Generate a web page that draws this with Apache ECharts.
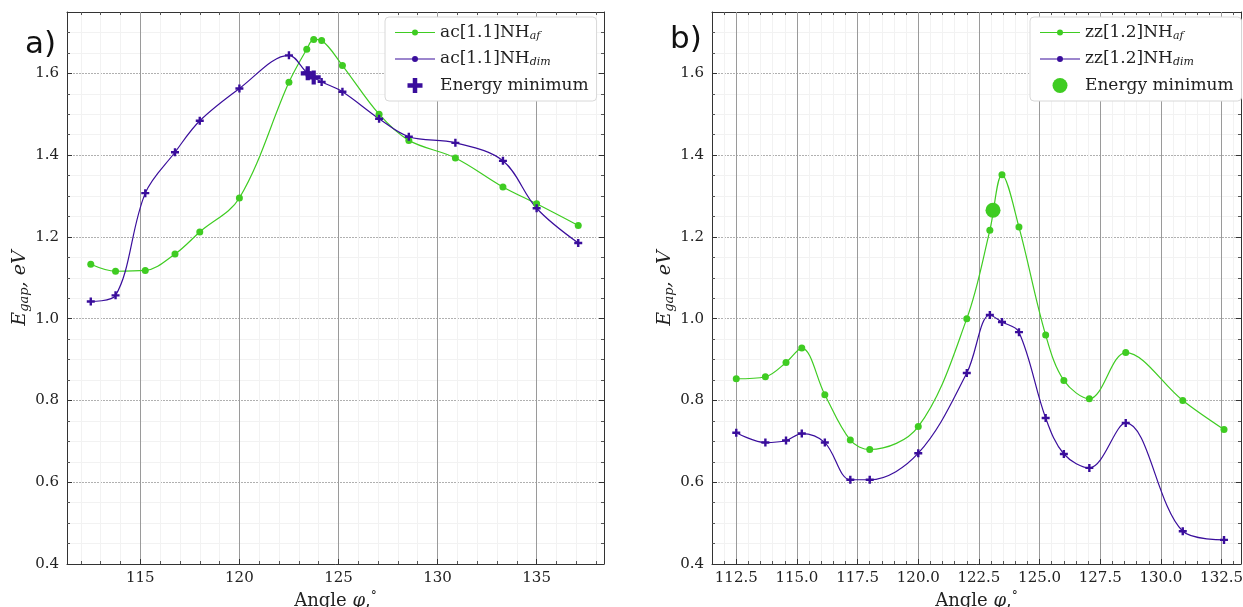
<!DOCTYPE html>
<html><head><meta charset="utf-8">
<script src="https://cdn.jsdelivr.net/npm/echarts@6/dist/echarts.min.js"></script>
<style>html,body{margin:0;padding:0;background:#fff}#c{width:1243px;height:607px}</style>
</head><body><div id="c"></div>
<script>
// ---------- Panel a) ----------
const aAngle = [112.5,113.75,115.25,116.75,118.0,120.0,122.5,123.4,123.75,124.15,125.2,127.05,128.55,130.9,133.3,135.0,137.1];
const aGapAf = [1.133,1.116,1.118,1.158,1.212,1.295,1.578,1.659,1.683,1.680,1.619,1.500,1.436,1.393,1.322,1.281,1.228];
const aGapDim = [1.042,1.057,1.307,1.407,1.484,1.563,1.644,1.602,1.590,1.579,1.555,1.489,1.445,1.430,1.386,1.270,1.185];
const aMinAngle = [123.45,123.75];
const aMinGap = [1.600,1.590];
// ---------- Panel b) ----------
const bAngle = [112.5,113.7,114.55,115.2,116.15,117.2,118.0,120.0,122.0,122.95,123.45,124.15,125.25,126.0,127.05,128.55,130.9,132.6];
const bGapAf = [0.853,0.858,0.893,0.928,0.814,0.703,0.680,0.736,1.000,1.216,1.352,1.224,0.960,0.849,0.804,0.917,0.800,0.729];
const bGapDim = [0.721,0.697,0.702,0.719,0.697,0.606,0.606,0.671,0.867,1.009,0.992,0.967,0.757,0.669,0.635,0.745,0.480,0.459];
const bMinAngle = [123.08];
const bMinGap = [1.265];
// ---------- Axis ticks ----------
const yTicks = [0.4,0.6,0.8,1.0,1.2,1.4,1.6];
const aXTicks = [115,120,125,130,135];
const aXMinor = [112,113,114,116,117,118,119,121,122,123,124,126,127,128,129,131,132,133,134,136,137,138];
const bXTicks = [112.5,115.0,117.5,120.0,122.5,125.0,127.5,130.0,132.5];
const bXMinor = [112,113,113.5,114,114.5,115.5,116,116.5,117,118,118.5,119,119.5,120.5,121,121.5,122,123,123.5,124,124.5,125.5,126,126.5,127,128,128.5,129,129.5,130.5,131,131.5,132,133];

const GREEN = '#3fcc22', PURPLE = '#3a0e9c';
const SERIF = 'DejaVu Serif';
const pairs = (xs, ys) => xs.map((x, i) => [x, ys[i]]);
const PLUS = 'path://M3.5,0H6.5V3.5H10V6.5H6.5V10H3.5V6.5H0V3.5H3.5Z';
const LINEDOT = 'path://M0,9.4H40V10.6H0Z M20,7 A3,3 0 1,1 20,13 A3,3 0 1,1 20,7Z';

function yAxes(gridIndex) {
  const base = {
    type: 'value', gridIndex, min: 0.4, max: 1.75, interval: 0.2,
    axisLine: { show: true, lineStyle: { color: '#333', width: 1 } },
    axisTick: { show: true, inside: true, length: 5, lineStyle: { color: '#333' } },
    minorTick: { show: true, splitNumber: 4, length: 3, lineStyle: { color: '#555' } },
  };
  return [
    Object.assign({}, base, {
      position: 'left',
      name: '{i|E}{s|gap}{i|, eV}', nameLocation: 'middle', nameGap: 36, nameRotate: 90,
      nameTextStyle: { rich: {
        i: { fontFamily: SERIF, fontStyle: 'italic', fontSize: 19, color: '#222' },
        s: { fontFamily: SERIF, fontStyle: 'italic', fontSize: 13, color: '#222', padding: [8, 0, 0, 0] }
      } },
      axisLabel: { fontFamily: SERIF, fontSize: 15, color: '#222', margin: 8, showMaxLabel: false,
        formatter: v => yTicks.includes(Math.round(v * 100) / 100) ? v.toFixed(1) : '' },
      splitLine: { show: true, lineStyle: { color: '#b0b0b0', width: 1, type: [2, 1] } },
      minorSplitLine: { show: true, lineStyle: { color: '#f2f2f2', width: 1 } }
    }),
    Object.assign({}, base, { position: 'right', axisLabel: { show: false }, splitLine: { show: false } })
  ];
}

function xAxes(gridIndex, min, max, ticks, minor, fmt) {
  const base = {
    type: 'value', gridIndex, min, max,
    axisLine: { show: true, onZero: false, lineStyle: { color: '#333', width: 1 } },
    axisTick: { show: true, inside: true, length: 5, customValues: ticks, lineStyle: { color: '#333' } },
    axisLabel: { show: false },
    splitLine: { show: false }
  };
  const minorBase = {
    type: 'value', gridIndex, min, max,
    axisLine: { show: false },
    axisTick: { show: true, inside: true, length: 3, customValues: minor, lineStyle: { color: '#555' } },
    axisLabel: { show: false },
    splitLine: { show: true, lineStyle: { color: '#f2f2f2', width: 1 } }
  };
  return [
    Object.assign({}, base, {
      position: 'bottom',
      name: '{t|Angle }{i|φ}{t|,}{u|°}', nameLocation: 'middle', nameGap: 23,
      nameTextStyle: { rich: {
        t: { fontFamily: SERIF, fontSize: 18, color: '#222' },
        i: { fontFamily: SERIF, fontStyle: 'italic', fontSize: 18, color: '#222' },
        u: { fontFamily: SERIF, fontSize: 12, color: '#222', padding: [0, 0, 8, 0] }
      } },
      axisLabel: { show: true, fontFamily: SERIF, fontSize: 15, color: '#222', margin: 7, customValues: ticks,
        formatter: v => fmt(v) },
      splitLine: { show: true, lineStyle: { color: '#9a9a9a', width: 1 } },
      z: 3
    }),
    Object.assign({}, base, { position: 'top' }),
    Object.assign({}, minorBase, { position: 'bottom' }),
    Object.assign({}, minorBase, { position: 'top', splitLine: { show: false } })
  ];
}

const legendText = {
  fontFamily: SERIF, fontSize: 17, color: '#222',
  rich: {
    t: { fontFamily: SERIF, fontSize: 17, color: '#222' },
    s: { fontFamily: SERIF, fontStyle: 'italic', fontSize: 11, color: '#222', padding: [7, 0, 0, 0] }
  }
};
const legendFmt = name => {
  if (name.startsWith('Energy minimum')) return '{t|Energy minimum}';
  const m = name.match(/^(.*)_(\w+)$/);
  return '{t|' + m[1] + '}{s|' + m[2] + '}';
};
const legendBase = {
  orient: 'vertical', itemWidth: 40, itemHeight: 15, itemGap: 9,
  padding: [7, 8, 7, 10], backgroundColor: '#fff', borderColor: '#d8d8d8', borderWidth: 1, borderRadius: 4,
  textStyle: legendText, formatter: legendFmt, selectedMode: false
};

const chart = echarts.init(document.getElementById('c'), null, { renderer: 'canvas' });
chart.setOption({
  backgroundColor: '#fff',
  animation: false,
  title: [
    { text: 'a)', left: 20, top: 24, textStyle: { fontFamily: 'DejaVu Sans', fontSize: 31, fontWeight: 'normal', color: '#111' } },
    { text: 'b)', left: 665, top: 19, textStyle: { fontFamily: 'DejaVu Sans', fontSize: 31, fontWeight: 'normal', color: '#111' } }
  ],
  grid: [
    { left: 67, top: 12, width: 537, height: 552, show: false, containLabel: false, outerBoundsMode: 'none' },
    { left: 712, top: 12, width: 529, height: 552, show: false, containLabel: false, outerBoundsMode: 'none' }
  ],
  xAxis: [].concat(
    xAxes(0, 111.3, 138.4, aXTicks, aXMinor, v => String(Math.round(v))),
    xAxes(1, 111.5, 133.3, bXTicks, bXMinor, v => v.toFixed(1))
  ),
  yAxis: [].concat(yAxes(0), yAxes(1)),
  legend: [
    Object.assign({}, legendBase, { left: 385, top: 17,
      data: [{ name: 'ac[1.1]NH_af', icon: LINEDOT }, { name: 'ac[1.1]NH_dim', icon: LINEDOT }, { name: 'Energy minimum (a)', icon: PLUS }] }),
    Object.assign({}, legendBase, { left: 1030, top: 17,
      data: [{ name: 'zz[1.2]NH_af', icon: LINEDOT }, { name: 'zz[1.2]NH_dim', icon: LINEDOT }, { name: 'Energy minimum (b)', icon: 'circle' }] })
  ],
  series: [
    { name: 'ac[1.1]NH_af', type: 'line', xAxisIndex: 0, yAxisIndex: 0, data: pairs(aAngle, aGapAf),
      smooth: 0.35, symbol: 'circle', symbolSize: 7, lineStyle: { color: GREEN, width: 1.2 }, itemStyle: { color: GREEN } },
    { name: 'ac[1.1]NH_dim', type: 'line', xAxisIndex: 0, yAxisIndex: 0, data: pairs(aAngle, aGapDim),
      smooth: 0.35, symbol: PLUS, symbolSize: 8, lineStyle: { color: PURPLE, width: 1.2 }, itemStyle: { color: PURPLE } },
    { name: 'Energy minimum (a)', type: 'scatter', xAxisIndex: 0, yAxisIndex: 0, data: pairs(aMinAngle, aMinGap),
      symbol: PLUS, symbolSize: 14, itemStyle: { color: PURPLE, opacity: 1 }, z: 5 },
    { name: 'zz[1.2]NH_af', type: 'line', xAxisIndex: 4, yAxisIndex: 2, data: pairs(bAngle, bGapAf),
      smooth: 0.35, symbol: 'circle', symbolSize: 7, lineStyle: { color: GREEN, width: 1.2 }, itemStyle: { color: GREEN } },
    { name: 'zz[1.2]NH_dim', type: 'line', xAxisIndex: 4, yAxisIndex: 2, data: pairs(bAngle, bGapDim),
      smooth: 0.35, symbol: PLUS, symbolSize: 8, lineStyle: { color: PURPLE, width: 1.2 }, itemStyle: { color: PURPLE } },
    { name: 'Energy minimum (b)', type: 'scatter', xAxisIndex: 4, yAxisIndex: 2, data: pairs(bMinAngle, bMinGap),
      symbol: 'circle', symbolSize: 15, itemStyle: { color: GREEN, opacity: 1 }, z: 5 }
  ]
});
</script></body></html>
